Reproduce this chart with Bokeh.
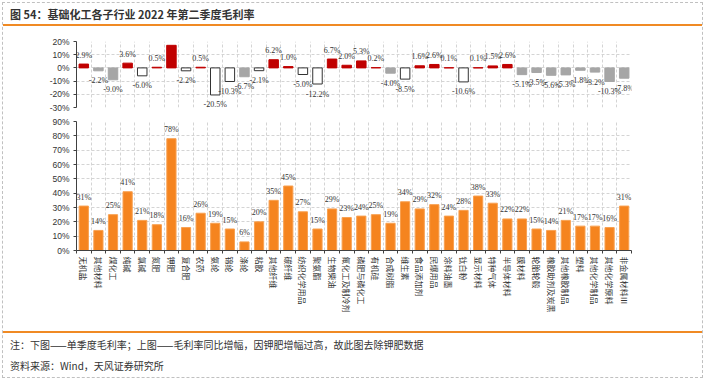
import math
from bokeh.plotting import figure
from bokeh.layouts import column
from bokeh.models import ColumnDataSource, LabelSet, FixedTicker, Div, Range1d
from bokeh.embed import file_html
from bokeh.resources import INLINE

# ---------------- data ----------------
categories = ["无机盐", "其他材料", "煤化工", "纯碱", "氯碱", "氮肥", "钾肥", "复合肥", "农药", "氨纶",
              "锦纶", "涤纶", "粘胶", "其他纤维", "碳纤维", "纺织化学用品", "聚氨酯", "生物柴油",
              "氟化工及制冷剂", "磷肥与磷化工", "有机硅", "合成树脂", "维生素", "食品添加剂", "民爆用品",
              "涂料油墨", "钛白粉", "显示材料", "特种气体", "半导体材料", "膜材料", "轮胎轮毂",
              "橡胶助剂及炭黑", "其他橡胶制品", "塑料", "其他化学制品", "其他化学原料", "非金属材料Ⅲ"]

gross_margin_q2 = [31, 14, 25, 41, 21, 18, 78, 16, 26, 19, 15, 6, 20, 35, 45, 27, 15, 29, 23,
                   24, 25, 19, 34, 29, 32, 24, 28, 38, 33, 22, 22, 15, 14, 21, 17, 17, 16, 31]

margin_yoy_change = [2.9, -2.2, -9.0, 3.6, -6.0, 0.5, 17.1, -2.2, 0.5, -20.5, -10.3, -6.7, -2.1,
                     6.2, 1.0, -5.0, -12.2, 6.7, 2.0, 5.3, 0.2, -4.0, -8.5, 1.6, 2.6, 0.1, -10.6,
                     0.1, 1.5, 2.6, -5.1, -3.5, -5.6, -5.3, -1.8, -3.2, -10.3, -7.8]

# bar kind in the upper chart (as drawn in the reference)
yoy_kind = ["up", "gray", "gray", "up", "hollow", "up", "up", "hollow", "up", "hollow", "hollow",
            "gray", "hollow", "up", "up", "hollow", "hollow", "up", "up", "up", "up", "gray",
            "hollow", "up", "up", "up", "hollow", "up", "up", "up", "gray", "gray", "gray",
            "gray", "gray", "gray", "gray", "gray"]

top_ticks = [-30, -20, -10, 0, 10, 20]
top_tick_labels = ["-30%", "-20%", "-10%", "0%", "10%", "20%"]
bot_ticks = [0, 10, 20, 30, 40, 50, 60, 70, 80, 90]
bot_tick_labels = ["0%", "10%", "20%", "30%", "40%", "50%", "60%", "70%", "80%", "90%"]

title_text = "图 54：基础化工各子行业 2022 年第二季度毛利率"
note_text = "注：下图——单季度毛利率；上图——毛利率同比增幅，因钾肥增幅过高，故此图去除钾肥数据"
source_text = "资料来源：Wind，天风证券研究所"

# ---------------- styles ----------------
N = len(categories)
centers = [i + 0.5 for i in range(N)]
bounds_ticks = list(range(N + 1))
FONT = "Liberation Sans"
CJK = "Noto Sans CJK SC"
TXT = "#333333"
AX = "#404040"
GRID = "#D4D4D4"
ORANGE = "#F08A24"
fill_map = {"up": "#C00000", "gray": "#A6A6A6", "hollow": "#FFFFFF"}
line_map = {"up": "#C00000", "gray": "#A6A6A6", "hollow": "#333333"}

W = 699


def style_axes(p):
    p.outline_line_color = None
    p.background_fill_color = "white"
    p.border_fill_color = "white"
    for ax in p.yaxis:
        ax.axis_line_color = AX
        ax.major_tick_line_color = AX
        ax.major_tick_out = 3
        ax.major_tick_in = 0
        ax.minor_tick_line_color = None
        ax.major_label_text_font = FONT
        ax.major_label_text_font_size = "8.5px"
        ax.major_label_text_color = TXT
        ax.major_label_standoff = 4
    p.xgrid.ticker = FixedTicker(ticks=bounds_ticks)
    for g in (p.xgrid, p.ygrid):
        g.grid_line_color = GRID
        g.grid_line_dash = "3 2"
        g.grid_line_width = 1


# ---------------- top chart ----------------
p_top = figure(width=W, height=88, x_range=Range1d(0, N), y_range=Range1d(-30, 20),
               output_backend="svg", toolbar_location=None,
               min_border_left=73, min_border_right=71, min_border_top=15, min_border_bottom=7)
p_top.xaxis.visible = False
p_top.yaxis.ticker = FixedTicker(ticks=top_ticks)
p_top.yaxis.major_label_overrides = dict(zip(top_ticks, top_tick_labels))
style_axes(p_top)

src_top = ColumnDataSource(dict(
    x=centers, v=margin_yoy_change,
    fill=[fill_map[k] for k in yoy_kind],
    line=[line_map[k] for k in yoy_kind],
))
p_top.vbar(x="x", top="v", bottom=0, width=0.65, source=src_top,
           fill_color="fill", line_color="line", line_width=1)

pos_idx = [i for i, v in enumerate(margin_yoy_change) if v >= 0]
neg_idx = [i for i, v in enumerate(margin_yoy_change) if v < 0]
src_tp = ColumnDataSource(dict(x=[centers[i] for i in pos_idx],
                               y=[margin_yoy_change[i] for i in pos_idx],
                               t=[f"{margin_yoy_change[i]:.1f}%" for i in pos_idx]))
src_tn = ColumnDataSource(dict(x=[centers[i] for i in neg_idx],
                               y=[margin_yoy_change[i] for i in neg_idx],
                               t=[f"{margin_yoy_change[i]:.1f}%" for i in neg_idx]))
p_top.add_layout(LabelSet(x="x", y="y", text="t", source=src_tp, text_align="center",
                          text_baseline="bottom", y_offset=4.5, text_font=FONT,
                          text_font_size="8px", text_color=TXT))
p_top.add_layout(LabelSet(x="x", y="y", text="t", source=src_tn, text_align="center",
                          text_baseline="top", y_offset=-5.5, text_font=FONT,
                          text_font_size="8px", text_color=TXT))

# ---------------- bottom chart ----------------
p_bot = figure(width=W, height=217, x_range=Range1d(0, N), y_range=Range1d(0, 90),
               output_backend="svg", toolbar_location=None,
               min_border_left=73, min_border_right=71, min_border_top=7, min_border_bottom=81)
p_bot.yaxis.ticker = FixedTicker(ticks=bot_ticks)
p_bot.yaxis.major_label_overrides = dict(zip(bot_ticks, bot_tick_labels))
p_bot.xaxis.ticker = FixedTicker(ticks=centers, minor_ticks=bounds_ticks)
p_bot.xaxis.major_label_overrides = dict(zip(centers, categories))
style_axes(p_bot)
xa = p_bot.xaxis[0]
xa.axis_line_color = AX
xa.major_tick_line_color = None
xa.major_tick_out = 0
xa.major_tick_in = 0
xa.minor_tick_line_color = AX
xa.minor_tick_out = 3
xa.minor_tick_in = 0
xa.major_label_orientation = -math.pi / 2
xa.major_label_text_font = CJK
xa.major_label_text_font_size = "8px"
xa.major_label_text_color = TXT
xa.major_label_standoff = 3

src_bot = ColumnDataSource(dict(x=centers, v=gross_margin_q2,
                                t=[f"{v}%" for v in gross_margin_q2]))
p_bot.vbar(x="x", top="v", bottom=0, width=0.63, source=src_bot,
           fill_color="#F5841F", line_color="#F8A050", line_width=1)
p_bot.add_layout(LabelSet(x="x", y="v", text="t", source=src_bot, text_align="center",
                          text_baseline="bottom", y_offset=4.5, text_font=FONT,
                          text_font_size="8px", text_color=TXT))

# ---------------- title / notes ----------------
title_div = Div(text=title_text, width=W, height=23, margin=0, styles={
    "font-family": f"'{CJK}'", "font-size": "11px", "font-weight": "bold", "color": TXT,
    "line-height": "20px", "padding-left": "7px", "padding-top": "1px",
    "border-bottom": f"2px solid {ORANGE}", "box-sizing": "border-box"})
foot_div = Div(text=f"{note_text}<br>{source_text}", width=W, height=46, margin=0, styles={
    "font-family": f"'{CJK}'", "font-size": "10px", "color": TXT,
    "line-height": "21px", "padding-left": "7px", "padding-top": "1px",
    "border-top": f"2px solid {ORANGE}", "box-sizing": "border-box"})

layout = column(title_div, p_top, p_bot, foot_div, margin=(2, 0, 0, 2),
                styles={"border": "1px dashed #C0C0C0", "background-color": "white"})

open("out.html", "w").write(file_html(layout, INLINE))
